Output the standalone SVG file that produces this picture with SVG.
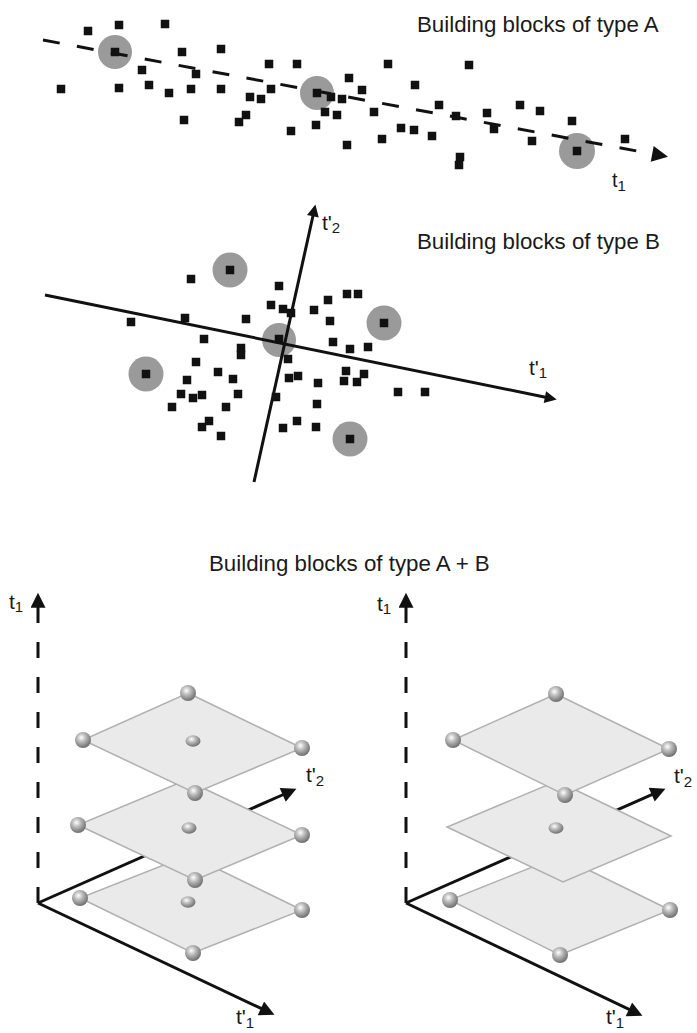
<svg xmlns="http://www.w3.org/2000/svg" xmlns:xlink="http://www.w3.org/1999/xlink" width="697" height="1033" viewBox="0 0 697 1033">
<style>
.ttl{font-family:"Liberation Sans",Arial,sans-serif;font-size:22.3px;fill:#1a1a1a}
.lbl{font-family:"Liberation Sans",Arial,sans-serif;font-size:21px;fill:#1a1a1a}
.sub{font-size:15px}
.ax{stroke:#111;stroke-width:3;fill:none}
.dash{stroke-dasharray:16 19}
.blob{fill:#9a9a9a}
.plane{fill:#eaeaea;stroke:#b0b0b0;stroke-width:1.5}
</style>
<defs>
<rect id="sq" x="-4.25" y="-4.25" width="8.5" height="8.5" fill="#111"/>
<radialGradient id="gs" cx="0.4" cy="0.35" r="0.65">
<stop offset="0" stop-color="#ffffff"/>
<stop offset="0.4" stop-color="#bdbdbd"/>
<stop offset="1" stop-color="#6f6f6f"/>
</radialGradient>
<circle id="sph" r="8" fill="url(#gs)"/>
<ellipse id="sphc" rx="7.5" ry="5.8" fill="url(#gs)"/>
<marker id="arrA" markerUnits="userSpaceOnUse" viewBox="0 0 10 10" markerWidth="17" markerHeight="16" refX="0.5" refY="5" orient="auto"><path d="M0,0 L10,5 L0,10 z" fill="#111"/></marker>
<marker id="arrB" markerUnits="userSpaceOnUse" viewBox="0 0 10 10" markerWidth="14" markerHeight="12" refX="0.5" refY="5" orient="auto"><path d="M0,0 L10,5 L0,10 z" fill="#111"/></marker>
<marker id="arrC" markerUnits="userSpaceOnUse" viewBox="0 0 10 10" markerWidth="16" markerHeight="15" refX="0.5" refY="5" orient="auto"><path d="M0,0 L10,5 L0,10 z" fill="#111"/></marker>
</defs>
<rect width="697" height="1033" fill="#ffffff"/>

<!-- Panel A -->
<g id="panelA">
<text class="ttl" x="417" y="32">Building blocks of type A</text>
<g id="A-circles">
<circle class="blob" cx="115" cy="52" r="17"/>
<circle class="blob" cx="317" cy="93" r="17"/>
<circle class="blob" cx="577" cy="151" r="18"/>
</g>
<g id="A-points">
<use href="#sq" x="88" y="31"/><use href="#sq" x="119" y="25"/><use href="#sq" x="165" y="24"/><use href="#sq" x="115" y="52"/>
<use href="#sq" x="61" y="89"/><use href="#sq" x="119" y="88"/><use href="#sq" x="142" y="70"/><use href="#sq" x="149" y="85"/>
<use href="#sq" x="169" y="93"/><use href="#sq" x="182" y="52"/><use href="#sq" x="184" y="120"/><use href="#sq" x="191" y="89"/>
<use href="#sq" x="196" y="74"/><use href="#sq" x="221" y="49"/><use href="#sq" x="221" y="89"/><use href="#sq" x="239" y="122"/>
<use href="#sq" x="246" y="115"/><use href="#sq" x="250" y="97"/><use href="#sq" x="261" y="99"/><use href="#sq" x="269" y="64"/>
<use href="#sq" x="271" y="89"/><use href="#sq" x="297" y="64"/><use href="#sq" x="291" y="131"/><use href="#sq" x="317" y="93"/>
<use href="#sq" x="331" y="97"/><use href="#sq" x="342" y="99"/><use href="#sq" x="325" y="112"/><use href="#sq" x="337" y="115"/>
<use href="#sq" x="316" y="125"/><use href="#sq" x="349" y="78"/><use href="#sq" x="347" y="145"/><use href="#sq" x="362" y="90"/>
<use href="#sq" x="388" y="64"/><use href="#sq" x="374" y="112"/><use href="#sq" x="415" y="85"/><use href="#sq" x="401" y="128"/>
<use href="#sq" x="414" y="130"/><use href="#sq" x="382" y="139"/><use href="#sq" x="439" y="105"/><use href="#sq" x="432" y="136"/>
<use href="#sq" x="469" y="65"/><use href="#sq" x="456" y="116"/><use href="#sq" x="460" y="157"/><use href="#sq" x="459" y="165"/>
<use href="#sq" x="487" y="113"/><use href="#sq" x="494" y="129"/><use href="#sq" x="520" y="105"/><use href="#sq" x="540" y="111"/>
<use href="#sq" x="532" y="141"/><use href="#sq" x="572" y="121"/><use href="#sq" x="577" y="151"/><use href="#sq" x="625" y="139"/>
</g>
<text class="lbl" x="612" y="187" style="font-size:20px">t<tspan class="sub" dy="4">1</tspan></text>
</g>

<!-- Panel B -->
<g id="panelB">
<text class="ttl" x="417" y="249">Building blocks of type B</text>
<g id="B-circles">
<circle class="blob" cx="230" cy="270" r="17.5"/>
<circle class="blob" cx="384" cy="323" r="17.5"/>
<circle class="blob" cx="146" cy="374" r="17.5"/>
<circle class="blob" cx="350" cy="439" r="17.5"/>
<circle class="blob" cx="279" cy="340" r="17"/>
</g>
<g id="B-points">
<use href="#sq" x="191" y="279"/><use href="#sq" x="279" y="286"/><use href="#sq" x="131" y="322"/><use href="#sq" x="185" y="318"/>
<use href="#sq" x="246" y="319"/><use href="#sq" x="271" y="305"/><use href="#sq" x="283" y="309"/><use href="#sq" x="291" y="313"/>
<use href="#sq" x="314" y="310"/><use href="#sq" x="328" y="300"/><use href="#sq" x="347" y="294"/><use href="#sq" x="358" y="294"/>
<use href="#sq" x="330" y="321"/><use href="#sq" x="204" y="339"/><use href="#sq" x="241" y="348"/><use href="#sq" x="241" y="355"/>
<use href="#sq" x="279" y="339"/><use href="#sq" x="333" y="342"/><use href="#sq" x="350" y="349"/><use href="#sq" x="368" y="347"/>
<use href="#sq" x="288" y="359"/><use href="#sq" x="196" y="362"/><use href="#sq" x="218" y="372"/><use href="#sq" x="187" y="380"/>
<use href="#sq" x="233" y="379"/><use href="#sq" x="289" y="378"/><use href="#sq" x="298" y="376"/><use href="#sq" x="318" y="383"/>
<use href="#sq" x="346" y="371"/><use href="#sq" x="344" y="381"/><use href="#sq" x="357" y="382"/><use href="#sq" x="364" y="374"/>
<use href="#sq" x="398" y="392"/><use href="#sq" x="425" y="392"/><use href="#sq" x="181" y="394"/><use href="#sq" x="193" y="398"/>
<use href="#sq" x="202" y="395"/><use href="#sq" x="238" y="394"/><use href="#sq" x="276" y="397"/><use href="#sq" x="317" y="404"/>
<use href="#sq" x="172" y="407"/><use href="#sq" x="226" y="407"/><use href="#sq" x="209" y="421"/><use href="#sq" x="202" y="427"/>
<use href="#sq" x="221" y="436"/><use href="#sq" x="297" y="421"/><use href="#sq" x="283" y="428"/><use href="#sq" x="316" y="427"/>
<use href="#sq" x="230" y="270"/><use href="#sq" x="384" y="323"/><use href="#sq" x="146" y="374"/><use href="#sq" x="350" y="439"/>
</g>
<text class="lbl" x="322" y="230">t'<tspan class="sub" dy="3">2</tspan></text>
<text class="lbl" x="529" y="375">t'<tspan class="sub" dy="3">1</tspan></text>
</g>

<!-- Connectors (axes) -->
<g id="connectors">
<line class="ax" x1="43" y1="40" x2="653" y2="154" style="stroke-dasharray:17 17.5" marker-end="url(#arrA)"/>
<line class="ax" x1="45" y1="295" x2="545.5" y2="397.2" marker-end="url(#arrB)"/>
<line class="ax" x1="254" y1="482" x2="313" y2="215.7" marker-end="url(#arrB)"/>
<line class="ax dash" x1="38" y1="903" x2="38" y2="607" marker-end="url(#arrC)"/>
<line class="ax" x1="38" y1="903" x2="261.6" y2="1008.7" marker-end="url(#arrC)"/>
<line class="ax" x1="38" y1="903" x2="283.4" y2="794.5" marker-end="url(#arrC)"/>
<line class="ax dash" x1="406" y1="903" x2="406" y2="607" marker-end="url(#arrC)"/>
<line class="ax" x1="406" y1="903" x2="629.6" y2="1009.7" marker-end="url(#arrC)"/>
<line class="ax" x1="406" y1="903" x2="652.4" y2="794.4" marker-end="url(#arrC)"/>
</g>

<!-- Panel A+B -->
<g id="panelAB">
<text class="ttl" x="209" y="571">Building blocks of type A + B</text>
<g id="left-stack">
<polygon class="plane" points="189,855 302,910 193,953 80,898"/>
<use href="#sph" x="80" y="898"/><use href="#sph" x="302" y="910"/><use href="#sph" x="193" y="953"/><use href="#sphc" x="188" y="902"/>
<polygon class="plane" points="186,780 302,835 195,880 78,825"/>
<use href="#sph" x="78" y="825"/><use href="#sph" x="302" y="835"/><use href="#sph" x="195" y="880"/><use href="#sphc" x="189" y="828"/>
<polygon class="plane" points="188,693 302,748 195,793 83,740"/>
<use href="#sph" x="188" y="693"/><use href="#sph" x="83" y="740"/><use href="#sph" x="302" y="748"/><use href="#sph" x="195" y="793"/><use href="#sphc" x="193" y="741"/>
</g>
<g id="right-stack">
<polygon class="plane" points="560,856 670,910 560,955 450,900"/>
<use href="#sph" x="450" y="900"/><use href="#sph" x="670" y="910"/><use href="#sph" x="560" y="955"/>
<polygon class="plane" points="557,781 671,836 563,882 447,827"/>
<use href="#sphc" x="556" y="828"/>
<polygon class="plane" points="556,694 669,749 565,795 453,740"/>
<use href="#sph" x="556" y="694"/><use href="#sph" x="453" y="740"/><use href="#sph" x="669" y="749"/><use href="#sph" x="565" y="795"/>
</g>
<text class="lbl" x="9" y="609">t<tspan class="sub" dy="3">1</tspan></text>
<text class="lbl" x="306" y="782">t'<tspan class="sub" dy="4">2</tspan></text>
<text class="lbl" x="236" y="1024">t'<tspan class="sub" dy="4">1</tspan></text>
<text class="lbl" x="377" y="611">t<tspan class="sub" dy="3">1</tspan></text>
<text class="lbl" x="674" y="783">t'<tspan class="sub" dy="4">2</tspan></text>
<text class="lbl" x="606" y="1024">t'<tspan class="sub" dy="4">1</tspan></text>
</g>
</svg>
